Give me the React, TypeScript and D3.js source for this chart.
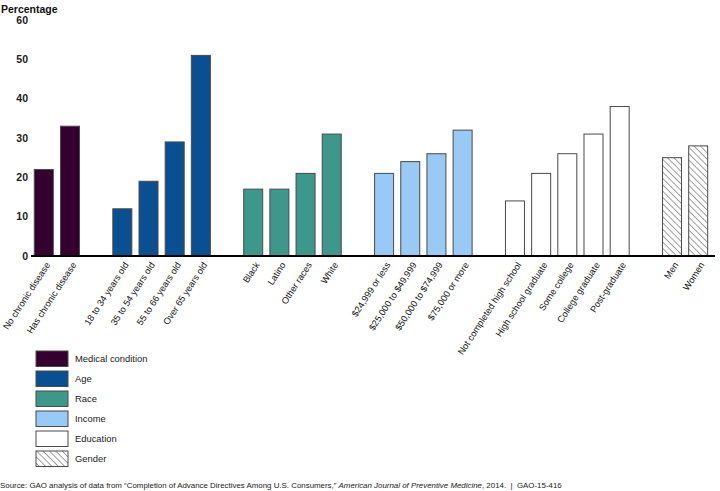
import { useEffect, useRef } from 'react';
import * as d3 from 'd3';

// categories and values
const groups = ['Medical condition', 'Age', 'Race', 'Income', 'Education', 'Gender'];

const medicalLabels = ['No chronic disease', 'Has chronic disease'];
const medicalValues = [22, 33];

const ageLabels = ['18 to 34 years old', '35 to 54 years old', '55 to 66 years old', 'Over 65 years old'];
const ageValues = [12, 19, 29, 51];

const raceLabels = ['Black', 'Latino', 'Other races', 'White'];
const raceValues = [17, 17, 21, 31];

const incomeLabels = ['$24,999 or less', '$25,000 to $49,999', '$50,000 to $74,999', '$75,000 or more'];
const incomeValues = [21, 24, 26, 32];

const educationLabels = ['Not completed high school', 'High school graduate', 'Some college', 'College graduate', 'Post-graduate'];
const educationValues = [14, 21, 26, 31, 38];

const genderLabels = ['Men', 'Women'];
const genderValues = [25, 28];

const yTicks = [0, 10, 20, 30, 40, 50, 60];

const groupColors: Record<string, string> = {
  'Medical condition': '#33002f',
  Age: '#0b4f93',
  Race: '#3e978b',
  Income: '#99c9f5',
  Education: '#ffffff',
  Gender: 'url(#hatch)',
};

const font = '"Liberation Sans", Arial, sans-serif';

export default function App() {
  const svgRef = useRef<SVGSVGElement>(null);

  useEffect(() => {
    document.body.style.margin = '0';
    const svg = d3.select(svgRef.current);
    svg.selectAll('*').remove();

    const width = 720;
    const height = 491;

    const series = [
      { group: groups[0], labels: medicalLabels, values: medicalValues },
      { group: groups[1], labels: ageLabels, values: ageValues },
      { group: groups[2], labels: raceLabels, values: raceValues },
      { group: groups[3], labels: incomeLabels, values: incomeValues },
      { group: groups[4], labels: educationLabels, values: educationValues },
      { group: groups[5], labels: genderLabels, values: genderValues },
    ];

    // flatten, with an empty slot between groups
    const rows: { key: string; label: string; value: number; group: string }[] = [];
    const slots: string[] = [];
    series.forEach((s, gi) => {
      if (gi > 0) slots.push(`gap-${gi}`);
      s.labels.forEach((l, i) => {
        rows.push({ key: l, label: l, value: s.values[i], group: s.group });
        slots.push(l);
      });
    });

    svg.attr('width', width).attr('height', height);

    // diagonal hatch running top-left to bottom-right
    const defs = svg.append('defs');
    const pat = defs
      .append('pattern')
      .attr('id', 'hatch')
      .attr('patternUnits', 'userSpaceOnUse')
      .attr('width', 4.5)
      .attr('height', 4.5)
      .attr('patternTransform', 'rotate(-45)');
    pat.append('rect').attr('width', 4.5).attr('height', 4.5).attr('fill', '#fff');
    pat.append('line').attr('x1', 0).attr('y1', 0).attr('x2', 0).attr('y2', 4.5).attr('stroke', '#444').attr('stroke-width', 1);

    const x = d3.scaleBand<string>().domain(slots).range([34.3, 707.7]).paddingInner(0.274).paddingOuter(0);
    const y = d3.scaleLinear().domain([0, 60]).range([256, 20]);

    // y labels
    svg
      .append('g')
      .selectAll('text')
      .data(yTicks)
      .join('text')
      .attr('x', 28)
      .attr('y', d => y(d))
      .attr('dy', '0.35em')
      .attr('text-anchor', 'end')
      .attr('font-family', font)
      .attr('font-size', 10.5)
      .attr('font-weight', 'bold')
      .attr('fill', '#222')
      .text(d => d);

    svg
      .append('text')
      .attr('x', 1)
      .attr('y', 13)
      .attr('font-family', font)
      .attr('font-size', 10.5)
      .attr('font-weight', 'bold')
      .attr('fill', '#111')
      .text('Percentage');

    // bars
    svg
      .append('g')
      .selectAll('rect')
      .data(rows)
      .join('rect')
      .attr('x', d => x(d.key)!)
      .attr('y', d => y(d.value))
      .attr('width', x.bandwidth())
      .attr('height', d => y(0) - y(d.value))
      .attr('fill', d => groupColors[d.group])
      .attr('stroke', '#4a4a4a')
      .attr('stroke-width', 1);

    // baseline
    svg
      .append('line')
      .attr('x1', 31)
      .attr('x2', 715)
      .attr('y1', y(0))
      .attr('y2', y(0))
      .attr('stroke', '#000')
      .attr('stroke-width', 2.2);

    // category labels
    svg
      .append('g')
      .selectAll('text')
      .data(rows)
      .join('text')
      .attr('transform', d => `translate(${x(d.key)! + x.bandwidth() / 2 + 4},${y(0) + 7}) rotate(-57)`)
      .attr('text-anchor', 'end')
      .attr('dy', '0.35em')
      .attr('font-family', font)
      .attr('font-size', 9.2)
      .attr('fill', '#111')
      .text(d => d.label);

    // legend
    const legend = svg
      .append('g')
      .selectAll('g')
      .data(groups)
      .join('g')
      .attr('transform', (_, i) => `translate(36,${351 + i * 20})`);
    legend
      .append('rect')
      .attr('width', 32)
      .attr('height', 15.5)
      .attr('fill', d => groupColors[d])
      .attr('stroke', '#4a4a4a')
      .attr('stroke-width', 1);
    legend
      .append('text')
      .attr('x', 39)
      .attr('y', 8)
      .attr('dy', '0.35em')
      .attr('font-family', font)
      .attr('font-size', 9.4)
      .attr('fill', '#222')
      .text(d => d);

    // source note
    const src = svg
      .append('text')
      .attr('x', 0)
      .attr('y', 488)
      .attr('font-family', font)
      .attr('font-size', 7.9)
      .attr('fill', '#222');
    src.append('tspan').text('Source: GAO analysis of data from \u201cCompletion of Advance Directives Among U.S. Consumers,\u201d ');
    src.append('tspan').attr('font-style', 'italic').text('American Journal of Preventive Medicine');
    src.append('tspan').attr('xml:space', 'preserve').text(', 2014.\u00a0\u00a0|\u00a0\u00a0GAO-15-416');
  }, []);

  return <svg ref={svgRef} style={{ display: 'block' }} />;
}
